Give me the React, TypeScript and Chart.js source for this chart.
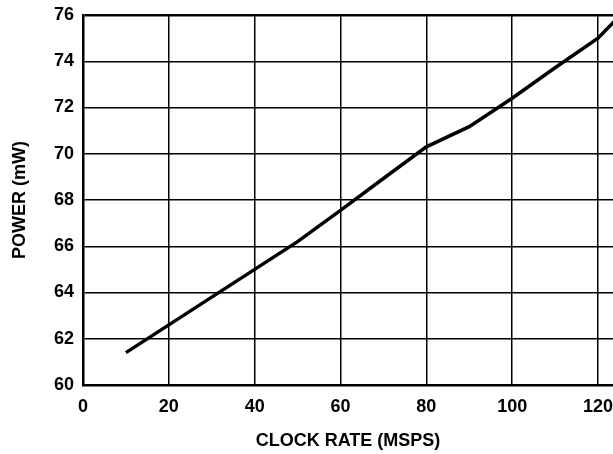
import React, { useEffect, useRef } from "react";
import { Chart, registerables } from "chart.js";

Chart.register(...registerables);

const clockRate = [10, 20, 30, 40, 50, 60, 70, 80, 90, 100, 110, 120, 125];
const power = [61.4, 62.6, 63.8, 65.0, 66.2, 67.55, 68.93, 70.3, 71.17, 72.4, 73.72, 75.0, 75.95];
const xTitle = "CLOCK RATE (MSPS)";
const yTitle = "POWER (mW)";

const FONT = "'Liberation Sans', Arial, sans-serif";

export default function App() {
  const ref = useRef<HTMLCanvasElement | null>(null);
  useEffect(() => {
    if (!ref.current) return;
    const chart = new Chart(ref.current, {
      type: "line",
      data: {
        datasets: [
          {
            data: clockRate.map((x, i) => ({ x, y: power[i] })),
            borderColor: "#000",
            borderWidth: 3.5,
            pointRadius: 0,
            tension: 0,
            fill: false,
          },
        ],
      },
      options: {
        animation: false,
        responsive: false,
        layout: { padding: { top: 15, left: 0, right: 0, bottom: 0 } },
        plugins: { legend: { display: false }, tooltip: { enabled: false } },
        scales: {
          x: {
            type: "linear",
            min: 0,
            max: 123.5,
            afterFit: (s: any) => {
              s.height = 69;
              s.paddingLeft = 0;
              s.paddingRight = 0;
            },
            ticks: {
              stepSize: 20,
              includeBounds: false,
              color: "#000",
              padding: 11,
              maxRotation: 0,
              font: { family: FONT, size: 18, weight: "bold" },
            },
            grid: { color: "#000", lineWidth: 1.5, drawTicks: false },
            border: { color: "#000", width: 2.5 },
            title: {
              display: true,
              text: xTitle,
              color: "#000",
              padding: { top: 0, bottom: 2 },
              font: { family: FONT, size: 18, weight: "bold" },
            },
          },
          y: {
            min: 60,
            max: 76,
            afterFit: (s: any) => {
              s.width = 83;
              s.paddingTop = 0;
              s.paddingBottom = 0;
            },
            ticks: {
              stepSize: 2,
              color: "#000",
              padding: 9,
              font: { family: FONT, size: 18, weight: "bold" },
            },
            grid: {
              color: "#000",
              lineWidth: (c: any) => (c.tick && c.tick.value === 76 ? 2.5 : 1.5),
              drawTicks: false,
            },
            border: { color: "#000", width: 2.5 },
            title: {
              display: true,
              text: yTitle,
              color: "#000",
              padding: { top: 9, bottom: 0 },
              font: { family: FONT, size: 18, weight: "bold" },
            },
          },
        },
      },
    });
    return () => chart.destroy();
  }, []);
  return (
    <div style={{ position: "fixed", left: 0, top: 0, width: 613, height: 454, background: "#fff" }}>
      <canvas ref={ref} width={613} height={454} />
    </div>
  );
}
